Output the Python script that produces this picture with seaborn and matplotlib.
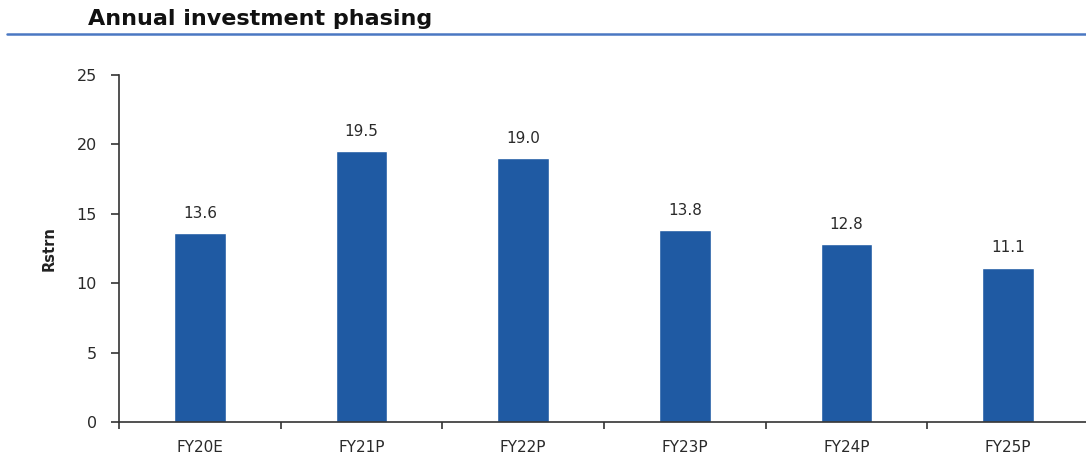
import matplotlib
matplotlib.use("Agg")
import matplotlib.pyplot as plt
import seaborn as sns
import pandas as pd
from matplotlib.lines import Line2D
from matplotlib.ticker import FixedLocator

categories = ["FY20E", "FY21P", "FY22P", "FY23P", "FY24P", "FY25P"]
values = [13.6, 19.5, 19.0, 13.8, 12.8, 11.1]
yticks = [0, 5, 10, 15, 20, 25]

sns.set_theme(style="white")
plt.rcParams['font.family'] = ['DejaVu Sans']

df = pd.DataFrame({"cat": categories, "val": values})

fig = plt.figure(figsize=(10.86, 4.55), dpi=100)
ax = fig.add_axes([119/1086, 1-422/455, (1089-119)/1086, (422-75)/455])
sns.barplot(data=df, x="cat", y="val", color="#1F5AA3", width=0.32, ax=ax, saturation=1)

ax.set_xlim(-0.5, len(categories)-0.5)
ax.set_ylim(0, 25)
ax.set_yticks(yticks)
ax.set_yticklabels([str(t) for t in yticks], fontsize=11.5, color="#2a2a2a")
ax.set_xticks(range(len(categories)))
ax.set_xticklabels(categories, fontsize=11, color="#2a2a2a")
ax.tick_params(axis="x", which="major", bottom=False, length=0, pad=13)
ax.xaxis.set_minor_locator(FixedLocator([i + 0.5 for i in range(-1, len(categories))]))
ax.tick_params(axis="x", which="minor", bottom=True, length=5, width=1.2, color="#333333", direction="out")
ax.tick_params(axis="y", which="major", left=True, length=6, width=1.2, color="#333333", direction="out", pad=10)
ax.set_xlabel("")
ax.set_ylabel("Rstrn", fontsize=10.5, fontweight="bold", color="#222222", labelpad=14)

for s in ["top", "right"]:
    ax.spines[s].set_visible(False)
for s in ["left", "bottom"]:
    ax.spines[s].set_color("#333333")
    ax.spines[s].set_linewidth(1.2)

for i, v in enumerate(values):
    ax.annotate(f"{v:.1f}", (i, v), xytext=(0, 9), textcoords="offset points",
                ha="center", va="bottom", fontsize=11, color="#2a2a2a")

fig.text(88/1086, 1-19/455, "Annual investment phasing", fontsize=16, fontweight="bold",
         family="DejaVu Sans", color="#111111", va="center", ha="left")
fig.add_artist(Line2D([7/1086, 1.0], [1-34/455, 1-34/455], color="#4A78C2", lw=1.8,
                      transform=fig.transFigure))

fig.savefig("out.png", dpi=100)
